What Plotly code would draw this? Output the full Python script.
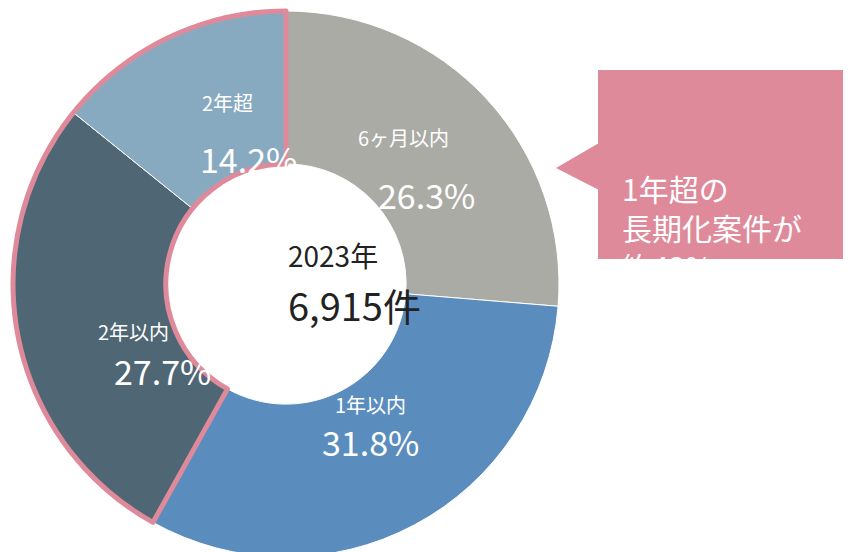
import plotly.graph_objects as go

labels = ["6ヶ月以内", "1年以内", "2年以内", "2年超"]
values = [26.3, 31.8, 27.7, 14.2]
colors = ["#ABABA6", "#5A8DBE", "#4F6674", "#88AAC0"]
pink = "#DF8A9A"

# label positions (px): (label x, y), (percent x, y)
label_pos = [((395, 113), (418, 160)), ((362, 413), (362, 460)),
             ((88, 323), (104, 362)), ((192, 78), (190, 124))]

# long-term group (2年以内 + 2年超) for the pink outline
group_values = [values[0] + values[1], values[2] + values[3]]

W, H = 851, 552
dom = dict(x=[4 / W, 552 / W], y=[3 / H, 549 / H])

fig = go.Figure()
fig.add_trace(go.Pie(
    labels=labels, values=values, sort=False, direction="clockwise", rotation=0,
    hole=0.44, domain=dom,
    marker=dict(colors=colors, line=dict(color="white", width=1)),
    textinfo="none", showlegend=False, hoverinfo="skip",
))
fig.add_trace(go.Pie(
    labels=["a", "b"], values=group_values, sort=False, direction="clockwise", rotation=0,
    hole=0.44, domain=dom,
    marker=dict(colors=["rgba(0,0,0,0)", "rgba(0,0,0,0)"],
                line=dict(color=["rgba(0,0,0,0)", pink], width=[0, 5])),
    textinfo="none", showlegend=False, hoverinfo="skip",
))

font = "Noto Sans CJK JP"
for lab, val, ((lx, ly), (px, py)) in zip(labels, values, label_pos):
    fig.add_annotation(x=lx / W, y=1 - ly / H, xref="paper", yref="paper", showarrow=False,
                       text=lab, font=dict(color="white", size=20, family=font))
    fig.add_annotation(x=px / W, y=1 - py / H, xref="paper", yref="paper", showarrow=False,
                       text=f"{val}%", font=dict(color="white", size=34, family=font))

fig.add_annotation(x=278 / W, y=1 - 247 / H, xref="paper", yref="paper", showarrow=False,
                   text="2023年", font=dict(color="#222", size=28, family=font))
fig.add_annotation(x=278 / W, y=1 - 297 / H, xref="paper", yref="paper", showarrow=False,
                   text="6,915件", font=dict(color="#222", size=38, family=font))

# callout box
fig.add_shape(type="rect", xref="paper", yref="paper", layer="below",
              x0=590 / W, x1=836 / W, y0=1 - 251 / H, y1=1 - 62 / H,
              fillcolor=pink, line=dict(width=0))
fig.add_shape(type="path", xref="paper", yref="paper", layer="below",
              path=f"M {591/W} {1-135/H} L {548/W} {1-160/H} L {591/W} {1-182/H} Z",
              fillcolor=pink, line=dict(width=0))
fig.add_annotation(x=612 / W, y=1 - 156 / H, xref="paper", yref="paper", showarrow=False,
                   xanchor="left", align="left",
                   text="1年超の<br>長期化案件が<br>約42%",
                   font=dict(color="white", size=30, family=font))

fig.update_layout(width=W, height=H, margin=dict(l=0, r=0, t=0, b=0),
                  paper_bgcolor="white", plot_bgcolor="white")
fig.write_html("out.html")
